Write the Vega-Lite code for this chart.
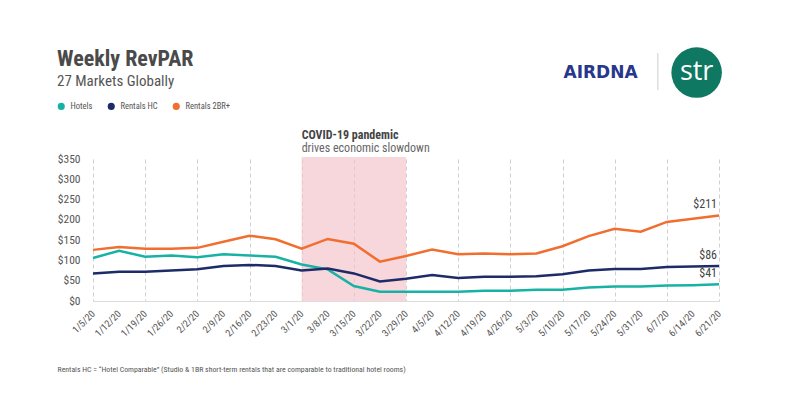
{
  "$schema": "https://vega.github.io/schema/vega-lite/v6.json",
  "width": 626,
  "height": 142,
  "autosize": {"type": "none"},
  "padding": {"left": 93, "top": 159, "right": 71, "bottom": 94},
  "background": "white",
  "config": {
    "view": {"stroke": null},
    "font": "Liberation Sans Narrow, Roboto Condensed, DejaVu Sans Condensed, Roboto",
    "text": {"font": "Liberation Sans Narrow, Roboto Condensed, DejaVu Sans Condensed, Roboto"},
    "axisY": {"tickCount": 8, "labelOverlap": false, "labelFlush": false}
  },
  "title": {
    "text": "Weekly RevPAR",
    "subtitle": "27 Markets Globally",
    "anchor": "start",
    "frame": "bounds",
    "fontSize": 22,
    "fontWeight": "bold",
    "color": "#4a4a4a",
    "subtitleFontSize": 15,
    "subtitleColor": "#555555",
    "subtitlePadding": 3,
    "offset": -43
  },
  "data": {
    "values": [
      {"date": "2020-01-05", "series": "Hotels", "value": 106},
      {"date": "2020-01-12", "series": "Hotels", "value": 124},
      {"date": "2020-01-19", "series": "Hotels", "value": 109},
      {"date": "2020-01-26", "series": "Hotels", "value": 112},
      {"date": "2020-02-02", "series": "Hotels", "value": 108},
      {"date": "2020-02-09", "series": "Hotels", "value": 115},
      {"date": "2020-02-16", "series": "Hotels", "value": 112},
      {"date": "2020-02-23", "series": "Hotels", "value": 109},
      {"date": "2020-03-01", "series": "Hotels", "value": 90},
      {"date": "2020-03-08", "series": "Hotels", "value": 78},
      {"date": "2020-03-15", "series": "Hotels", "value": 37},
      {"date": "2020-03-22", "series": "Hotels", "value": 23},
      {"date": "2020-03-29", "series": "Hotels", "value": 23},
      {"date": "2020-04-05", "series": "Hotels", "value": 23},
      {"date": "2020-04-12", "series": "Hotels", "value": 23},
      {"date": "2020-04-19", "series": "Hotels", "value": 25},
      {"date": "2020-04-26", "series": "Hotels", "value": 25},
      {"date": "2020-05-03", "series": "Hotels", "value": 28},
      {"date": "2020-05-10", "series": "Hotels", "value": 28},
      {"date": "2020-05-17", "series": "Hotels", "value": 33},
      {"date": "2020-05-24", "series": "Hotels", "value": 36},
      {"date": "2020-05-31", "series": "Hotels", "value": 36},
      {"date": "2020-06-07", "series": "Hotels", "value": 38},
      {"date": "2020-06-14", "series": "Hotels", "value": 39},
      {"date": "2020-06-21", "series": "Hotels", "value": 41},
      {"date": "2020-01-05", "series": "Rentals HC", "value": 68},
      {"date": "2020-01-12", "series": "Rentals HC", "value": 72},
      {"date": "2020-01-19", "series": "Rentals HC", "value": 72},
      {"date": "2020-01-26", "series": "Rentals HC", "value": 75},
      {"date": "2020-02-02", "series": "Rentals HC", "value": 78},
      {"date": "2020-02-09", "series": "Rentals HC", "value": 86},
      {"date": "2020-02-16", "series": "Rentals HC", "value": 89},
      {"date": "2020-02-23", "series": "Rentals HC", "value": 86},
      {"date": "2020-03-01", "series": "Rentals HC", "value": 75},
      {"date": "2020-03-08", "series": "Rentals HC", "value": 80},
      {"date": "2020-03-15", "series": "Rentals HC", "value": 68},
      {"date": "2020-03-22", "series": "Rentals HC", "value": 48},
      {"date": "2020-03-29", "series": "Rentals HC", "value": 55},
      {"date": "2020-04-05", "series": "Rentals HC", "value": 64},
      {"date": "2020-04-12", "series": "Rentals HC", "value": 57},
      {"date": "2020-04-19", "series": "Rentals HC", "value": 60},
      {"date": "2020-04-26", "series": "Rentals HC", "value": 60},
      {"date": "2020-05-03", "series": "Rentals HC", "value": 61},
      {"date": "2020-05-10", "series": "Rentals HC", "value": 66},
      {"date": "2020-05-17", "series": "Rentals HC", "value": 75},
      {"date": "2020-05-24", "series": "Rentals HC", "value": 79},
      {"date": "2020-05-31", "series": "Rentals HC", "value": 79},
      {"date": "2020-06-07", "series": "Rentals HC", "value": 84},
      {"date": "2020-06-14", "series": "Rentals HC", "value": 85},
      {"date": "2020-06-21", "series": "Rentals HC", "value": 86},
      {"date": "2020-01-05", "series": "Rentals 2BR+", "value": 126},
      {"date": "2020-01-12", "series": "Rentals 2BR+", "value": 133},
      {"date": "2020-01-19", "series": "Rentals 2BR+", "value": 129},
      {"date": "2020-01-26", "series": "Rentals 2BR+", "value": 129},
      {"date": "2020-02-02", "series": "Rentals 2BR+", "value": 131},
      {"date": "2020-02-09", "series": "Rentals 2BR+", "value": 146},
      {"date": "2020-02-16", "series": "Rentals 2BR+", "value": 161},
      {"date": "2020-02-23", "series": "Rentals 2BR+", "value": 152},
      {"date": "2020-03-01", "series": "Rentals 2BR+", "value": 129},
      {"date": "2020-03-08", "series": "Rentals 2BR+", "value": 153},
      {"date": "2020-03-15", "series": "Rentals 2BR+", "value": 141},
      {"date": "2020-03-22", "series": "Rentals 2BR+", "value": 97},
      {"date": "2020-03-29", "series": "Rentals 2BR+", "value": 111},
      {"date": "2020-04-05", "series": "Rentals 2BR+", "value": 127},
      {"date": "2020-04-12", "series": "Rentals 2BR+", "value": 115},
      {"date": "2020-04-19", "series": "Rentals 2BR+", "value": 117},
      {"date": "2020-04-26", "series": "Rentals 2BR+", "value": 115},
      {"date": "2020-05-03", "series": "Rentals 2BR+", "value": 117},
      {"date": "2020-05-10", "series": "Rentals 2BR+", "value": 135},
      {"date": "2020-05-17", "series": "Rentals 2BR+", "value": 160},
      {"date": "2020-05-24", "series": "Rentals 2BR+", "value": 178},
      {"date": "2020-05-31", "series": "Rentals 2BR+", "value": 171},
      {"date": "2020-06-07", "series": "Rentals 2BR+", "value": 195},
      {"date": "2020-06-14", "series": "Rentals 2BR+", "value": 203},
      {"date": "2020-06-21", "series": "Rentals 2BR+", "value": 211}
    ],
    "format": {"parse": {"date": "utc:'%Y-%m-%d'"}}
  },
  "layer": [
    {
      "data": {
        "values": [
          {"start": "2020-03-01", "end": "2020-03-29", "headline": "COVID-19 pandemic", "detail": "drives economic slowdown"}
        ],
        "format": {"parse": {"start": "utc:'%Y-%m-%d'", "end": "utc:'%Y-%m-%d'"}}
      },
      "layer": [
        {
          "mark": {"type": "rect", "fill": "#f3c2c8", "opacity": 0.65},
          "encoding": {
            "x": {"field": "start", "type": "temporal"},
            "x2": {"field": "end"},
            "y": {"datum": 0},
            "y2": {"datum": 355}
          }
        },
        {
          "mark": {"type": "text", "align": "left", "baseline": "alphabetic", "dy": -20, "fontSize": 12, "fontWeight": "bold", "color": "#444444"},
          "encoding": {
            "x": {"field": "start", "type": "temporal"},
            "y": {"datum": 350},
            "text": {"field": "headline"}
          }
        },
        {
          "mark": {"type": "text", "align": "left", "baseline": "alphabetic", "dy": -7, "fontSize": 12, "color": "#666666"},
          "encoding": {
            "x": {"field": "start", "type": "temporal"},
            "y": {"datum": 350},
            "text": {"field": "detail"}
          }
        }
      ]
    },
    {
      "mark": {"type": "line", "strokeWidth": 2.5},
      "encoding": {
        "x": {
          "field": "date",
          "type": "temporal",
          "title": "Rentals HC = \u201cHotel Comparable\u201d (Studio & 1BR short-term rentals that are comparable to traditional hotel rooms)",
          "scale": {
            "type": "utc",
            "domain": [
              {"year": 2020, "month": 1, "date": 5, "utc": true},
              {"year": 2020, "month": 6, "date": 21, "utc": true}
            ]
          },
          "axis": {
            "format": "%-m/%-d/%y",
            "tickCount": {"interval": "week", "step": 1},
            "labelAngle": -45,
            "labelAlign": "right",
            "labelBaseline": "middle",
            "labelPadding": 11,
            "labelFontSize": 10,
            "labelColor": "#555555",
            "labelOverlap": false,
            "labelFlush": false,
            "ticks": false,
            "domain": true,
            "domainColor": "#dddddd",
            "grid": true,
            "gridColor": "#cfcfcf",
            "gridDash": [4, 3],
            "gridOpacity": {
              "condition": {"test": "round((time(datum.value) - 1578182400000) / 604800000) % 2 == 0", "value": 1},
              "value": 0
            },
            "titleX": -36,
            "titleY": 68,
            "titleAlign": "left",
            "titleAnchor": "start",
            "titleBaseline": "middle",
            "titleFontSize": 7.8,
            "titleFontWeight": "normal",
            "titleColor": "#555555"
          }
        },
        "y": {
          "field": "value",
          "type": "quantitative",
          "title": null,
          "scale": {"domain": [0, 350]},
          "axis": {
            "values": [0, 50, 100, 150, 200, 250, 300, 350],
            "tickCount": 8,
            "format": "$d",
            "ticks": false,
            "domain": false,
            "grid": false,
            "labelOverlap": false,
            "labelFlush": false,
            "labelFontSize": 11.5,
            "labelColor": "#555555",
            "labelPadding": 13
          }
        },
        "color": {
          "field": "series",
          "type": "nominal",
          "scale": {
            "domain": ["Hotels", "Rentals HC", "Rentals 2BR+"],
            "range": ["#17b2a4", "#1d2b69", "#f16e2f"]
          },
          "legend": {
            "orient": "none",
            "legendX": -36,
            "legendY": -57,
            "direction": "horizontal",
            "title": null,
            "symbolType": "circle",
            "symbolSize": 50,
            "symbolStrokeWidth": 0,
            "labelFontSize": 8.5,
            "labelColor": "#555555",
            "labelOffset": 5,
            "columnPadding": 14,
            "encode": {
              "symbols": {"update": {"fill": {"scale": "color", "field": "value"}, "opacity": {"value": 1}}}
            }
          }
        }
      }
    },
    {
      "transform": [{"filter": "time(datum.date) >= utc(2020, 5, 20)"}],
      "mark": {"type": "text", "align": "right", "baseline": "bottom", "dx": -2, "dy": -4, "fontSize": 12, "color": "#444444"},
      "encoding": {
        "x": {"field": "date", "type": "temporal"},
        "y": {"field": "value", "type": "quantitative"},
        "text": {"field": "value", "format": "$d"}
      }
    },
    {
      "data": {"values": [{"brand": "AIRDNA"}]},
      "mark": {"type": "text", "align": "center", "baseline": "middle", "fontSize": 17, "fontWeight": "bold", "color": "#27378c", "font": "DejaVu Sans"},
      "encoding": {
        "x": {"datum": {"year": 2020, "month": 5, "date": 20, "hours": 5, "utc": true}, "type": "temporal"},
        "y": {"datum": 563},
        "text": {"field": "brand"}
      }
    },
    {
      "data": {"values": [{"brand": "divider"}]},
      "mark": {"type": "rule", "color": "#cccccc", "strokeWidth": 1},
      "encoding": {
        "x": {"datum": {"year": 2020, "month": 6, "date": 4, "hours": 14, "utc": true}, "type": "temporal"},
        "y": {"datum": 611},
        "y2": {"datum": 520}
      }
    },
    {
      "data": {"values": [{"brand": "str"}]},
      "layer": [
        {
          "mark": {"type": "point", "filled": true, "size": 2552, "color": "#0f7862", "opacity": 1},
          "encoding": {
            "x": {"datum": {"year": 2020, "month": 6, "date": 15, "utc": true}, "type": "temporal"},
            "y": {"datum": 563}
          }
        },
        {
          "mark": {"type": "text", "align": "center", "baseline": "middle", "fontSize": 27, "color": "#ffffff", "font": "Open Sans", "dy": -1},
          "encoding": {
            "x": {"datum": {"year": 2020, "month": 6, "date": 15, "utc": true}, "type": "temporal"},
            "y": {"datum": 563},
            "text": {"field": "brand"}
          }
        }
      ]
    }
  ]
}
